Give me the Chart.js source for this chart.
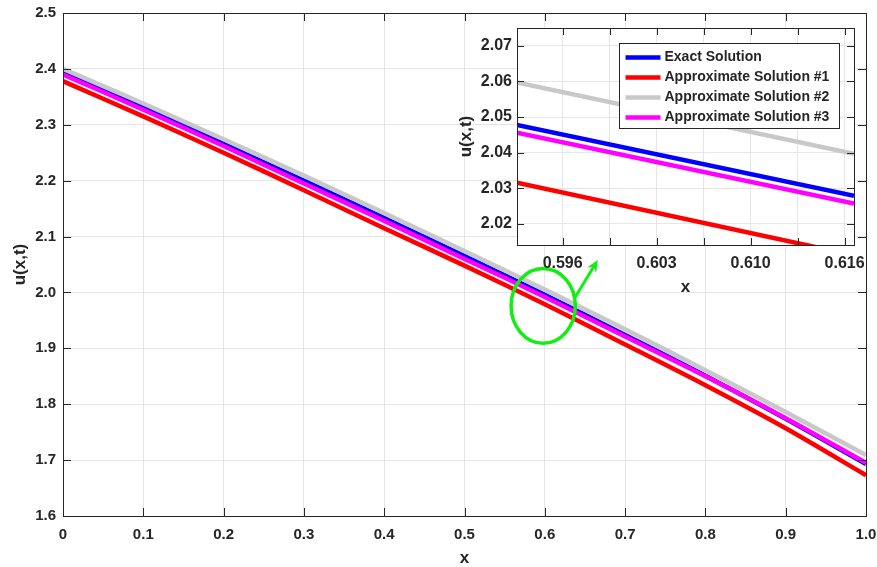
<!DOCTYPE html>
<html>
<head>
<meta charset="utf-8">
<script src="https://cdn.jsdelivr.net/npm/chart.js@4.4.1/dist/chart.umd.min.js"></script>
<style>
  html, body { margin: 0; padding: 0; background: #fff; }
  #wrap { position: relative; width: 877px; height: 567px; }
  #mainChart { position: absolute; left: 0; top: 0; }
  #insetChart { position: absolute; left: 440px; top: 0; }
</style>
</head>
<body>
<div id="wrap">
  <canvas id="mainChart" width="877" height="567"></canvas>
  <canvas id="insetChart" width="437" height="300"></canvas>
</div>
<script>
// Main plot data
const xValues       = [0, 0.1, 0.2, 0.3, 0.4, 0.5, 0.6, 0.7, 0.8, 0.9, 1.0];
const exactValues   = [2.394, 2.331, 2.266, 2.200, 2.133, 2.065, 1.996, 1.924, 1.851, 1.774, 1.693];
const approx1Values = [2.378, 2.315, 2.250, 2.183, 2.115, 2.048, 1.979, 1.907, 1.834, 1.757, 1.673];
const approx2Values = [2.400, 2.338, 2.274, 2.209, 2.142, 2.074, 2.005, 1.934, 1.861, 1.786, 1.709];
const approx3Values = [2.390, 2.327, 2.262, 2.195, 2.128, 2.060, 1.992, 1.921, 1.850, 1.775, 1.695];

const xTicks      = [0, 0.1, 0.2, 0.3, 0.4, 0.5, 0.6, 0.7, 0.8, 0.9, 1.0];
const xTickLabels = ['0', '0.1', '0.2', '0.3', '0.4', '0.5', '0.6', '0.7', '0.8', '0.9', '1.0'];
const yTicks      = [1.6, 1.7, 1.8, 1.9, 2.0, 2.1, 2.2, 2.3, 2.4, 2.5];
const yTickLabels = ['1.6', '1.7', '1.8', '1.9', '2.0', '2.1', '2.2', '2.3', '2.4', '2.5'];

// Zoomed inset data
const insetX       = [0.5926, 0.6177];
const insetExact   = [2.0478, 2.0279];
const insetApprox1 = [2.0316, 2.0112];
const insetApprox2 = [2.0597, 2.0397];
const insetApprox3 = [2.0456, 2.0257];

const insetXTicks      = [0.596, 0.5995, 0.603, 0.6065, 0.610, 0.6135, 0.617];
const insetXTickLabels = ['0.596', '', '0.603', '', '0.610', '', '0.616'];
const insetYTicks      = [2.02, 2.03, 2.04, 2.05, 2.06, 2.07];
const insetYTickLabels = ['2.02', '2.03', '2.04', '2.05', '2.06', '2.07'];

const seriesNames  = ['Exact Solution', 'Approximate Solution #1', 'Approximate Solution #2', 'Approximate Solution #3'];
const seriesColors = ['#0000ff', '#ff0000', '#c8c8c8', '#ff00ff'];

// Green marker (data coordinates of main plot)
const ringCenter = [0.598, 1.976];
const ringRadius = [0.04, 0.067];
const arrowFrom  = [0.638, 1.992];
const arrowTo    = [0.666, 2.058];

const FONT = "'Liberation Sans', Arial, Helvetica, sans-serif";
const TEXT = '#262626';
const GRID = '#e6e6e6';

function makeDatasets(xs, seriesList, width, tension) {
  return seriesList.map((vals, i) => ({
    label: seriesNames[i],
    data: xs.map((x, k) => ({ x: x, y: vals[k] })),
    borderColor: seriesColors[i],
    backgroundColor: seriesColors[i],
    borderWidth: width,
    pointRadius: 0,
    tension: tension,
    clip: 0,
    order: seriesList.length - i   // later series on top, like MATLAB
  }));
}

function fixedTicks(values) {
  return scale => { scale.ticks = values.map(v => ({ value: v })); };
}

// Box frame with inward ticks on all four sides
function boxPlugin(tickLen) {
  return {
    id: 'box',
    afterDatasetsDraw(chart) {
      const { ctx, chartArea: a, scales: { x, y } } = chart;
      ctx.save();
      ctx.strokeStyle = TEXT;
      ctx.lineWidth = 1;
      ctx.beginPath();
      x.ticks.forEach(t => {
        const px = Math.round(x.getPixelForValue(t.value)) + 0.5;
        ctx.moveTo(px, a.bottom); ctx.lineTo(px, a.bottom - tickLen);
        ctx.moveTo(px, a.top); ctx.lineTo(px, a.top + tickLen);
      });
      y.ticks.forEach(t => {
        const py = Math.round(y.getPixelForValue(t.value)) + 0.5;
        ctx.moveTo(a.left, py); ctx.lineTo(a.left + tickLen, py);
        ctx.moveTo(a.right, py); ctx.lineTo(a.right - tickLen, py);
      });
      ctx.stroke();
      ctx.strokeRect(Math.round(a.left) + 0.5, Math.round(a.top) + 0.5,
                     Math.round(a.right - a.left), Math.round(a.bottom - a.top));
      ctx.restore();
    }
  };
}

const ringPlugin = {
  id: 'ring',
  afterDraw(chart) {
    const { ctx, scales: { x, y } } = chart;
    const cx = x.getPixelForValue(ringCenter[0]);
    const cy = y.getPixelForValue(ringCenter[1]);
    const rx = x.getPixelForValue(ringCenter[0] + ringRadius[0]) - cx;
    const ry = cy - y.getPixelForValue(ringCenter[1] + ringRadius[1]);
    ctx.save();
    ctx.strokeStyle = '#11ee11';
    ctx.lineWidth = 3.5;
    ctx.beginPath();
    ctx.ellipse(cx, cy, rx, ry, 0, 0, Math.PI * 2);
    ctx.stroke();

    const x0 = x.getPixelForValue(arrowFrom[0]), y0 = y.getPixelForValue(arrowFrom[1]);
    const x1 = x.getPixelForValue(arrowTo[0]),   y1 = y.getPixelForValue(arrowTo[1]);
    const ang = Math.atan2(y1 - y0, x1 - x0);
    ctx.lineWidth = 3;
    ctx.beginPath();
    ctx.moveTo(x0, y0); ctx.lineTo(x1 - 5 * Math.cos(ang), y1 - 5 * Math.sin(ang));
    ctx.stroke();
    ctx.beginPath();
    ctx.moveTo(x1, y1);
    ctx.lineTo(x1 - 13 * Math.cos(ang - 0.42), y1 - 13 * Math.sin(ang - 0.42));
    ctx.lineTo(x1 - 8 * Math.cos(ang), y1 - 8 * Math.sin(ang));
    ctx.lineTo(x1 - 13 * Math.cos(ang + 0.42), y1 - 13 * Math.sin(ang + 0.42));
    ctx.closePath();
    ctx.fillStyle = '#11ee11';
    ctx.fill();
    ctx.restore();
  }
};

// White plot background for the inset
const insetBgPlugin = {
  id: 'insetBg',
  beforeDraw(chart) {
    const { ctx, chartArea: a } = chart;
    ctx.save();
    ctx.fillStyle = '#fff';
    ctx.fillRect(a.left, a.top, a.right - a.left, a.bottom - a.top);
    ctx.restore();
  }
};

// Legend drawn inside the inset axes, top right
const insetLegendPlugin = {
  id: 'insetLegend',
  afterDatasetsDraw(chart) {
    const { ctx, chartArea: a } = chart;
    const w = 220, h = 85;
    const left = Math.round(a.right - 15 - w) + 0.5;
    const top = Math.round(a.top + 15) + 0.5;
    ctx.save();
    ctx.fillStyle = '#fff';
    ctx.fillRect(left, top, w, h);
    ctx.strokeStyle = TEXT;
    ctx.lineWidth = 1;
    ctx.strokeRect(left, top, w, h);
    ctx.font = 'bold 14px ' + FONT;
    ctx.textBaseline = 'middle';
    chart.data.datasets.forEach((ds, i) => {
      const yy = top + 14 + i * 20;
      ctx.strokeStyle = ds.borderColor;
      ctx.lineWidth = 4.5;
      ctx.beginPath();
      ctx.moveTo(left + 6, yy); ctx.lineTo(left + 41, yy);
      ctx.stroke();
      ctx.fillStyle = TEXT;
      ctx.fillText(ds.label, left + 45, yy);
    });
    ctx.restore();
  }
};

function axisOptions(opts) {
  return {
    type: 'linear',
    min: opts.min,
    max: opts.max,
    afterBuildTicks: fixedTicks(opts.ticks),
    afterFit: s => {
      opts.fit(s);
      // no automatic extra room for end labels: layout padding decides
      s.paddingLeft = s.paddingRight = s.paddingTop = s.paddingBottom = 0;
    },
    grid: { color: GRID, lineWidth: 1, drawTicks: false },
    border: { display: false },
    ticks: {
      autoSkip: false,
      maxRotation: 0,
      padding: opts.pad,
      color: TEXT,
      font: { family: FONT, size: opts.tickSize, weight: 'bold' },
      callback: (v, i) => opts.labels[i]
    },
    title: {
      display: true,
      text: opts.title,
      color: TEXT,
      font: { family: FONT, size: 17, weight: 'bold', lineHeight: 1 },
      padding: opts.titlePad
    }
  };
}

new Chart(document.getElementById('mainChart'), {
  type: 'line',
  data: {
    datasets: makeDatasets(xValues, [exactValues, approx1Values, approx2Values, approx3Values], 4.5, 0.3)
  },
  options: {
    responsive: false,
    animation: false,
    layout: { padding: { left: 0, right: 11, top: 13, bottom: 0 } },
    plugins: { legend: { display: false }, tooltip: { enabled: false } },
    scales: {
      x: axisOptions({ min: 0, max: 1, ticks: xTicks, labels: xTickLabels, pad: 10, tickSize: 15,
        title: 'x', titlePad: { top: 0, bottom: 0 }, fit: s => { s.height = 51; } }),
      y: axisOptions({ min: 1.6, max: 2.5, ticks: yTicks, labels: yTickLabels, pad: 7, tickSize: 15,
        title: 'u(x,t)', titlePad: { top: 11.5, bottom: 0 }, fit: s => { s.width = 63; } })
    }
  },
  plugins: [boxPlugin(8), ringPlugin]
});

new Chart(document.getElementById('insetChart'), {
  type: 'line',
  data: {
    datasets: makeDatasets(insetX, [insetExact, insetApprox1, insetApprox2, insetApprox3], 4.5, 0)
  },
  options: {
    responsive: false,
    animation: false,
    layout: { padding: { left: 0, right: 23, top: 28, bottom: 0 } },
    plugins: { legend: { display: false }, tooltip: { enabled: false } },
    scales: {
      x: axisOptions({ min: 0.5926, max: 0.6177, ticks: insetXTicks, labels: insetXTickLabels, pad: 9, tickSize: 16,
        title: 'x', titlePad: { top: 0, bottom: 4 }, fit: s => { s.height = 55; } }),
      y: axisOptions({ min: 2.0141, max: 2.075, ticks: insetYTicks, labels: insetYTickLabels, pad: 5, tickSize: 16,
        title: 'u(x,t)', titlePad: { top: 18, bottom: 0 }, fit: s => { s.width = 77; } })
    }
  },
  plugins: [insetBgPlugin, insetLegendPlugin, boxPlugin(7)]
});
</script>
</body>
</html>
